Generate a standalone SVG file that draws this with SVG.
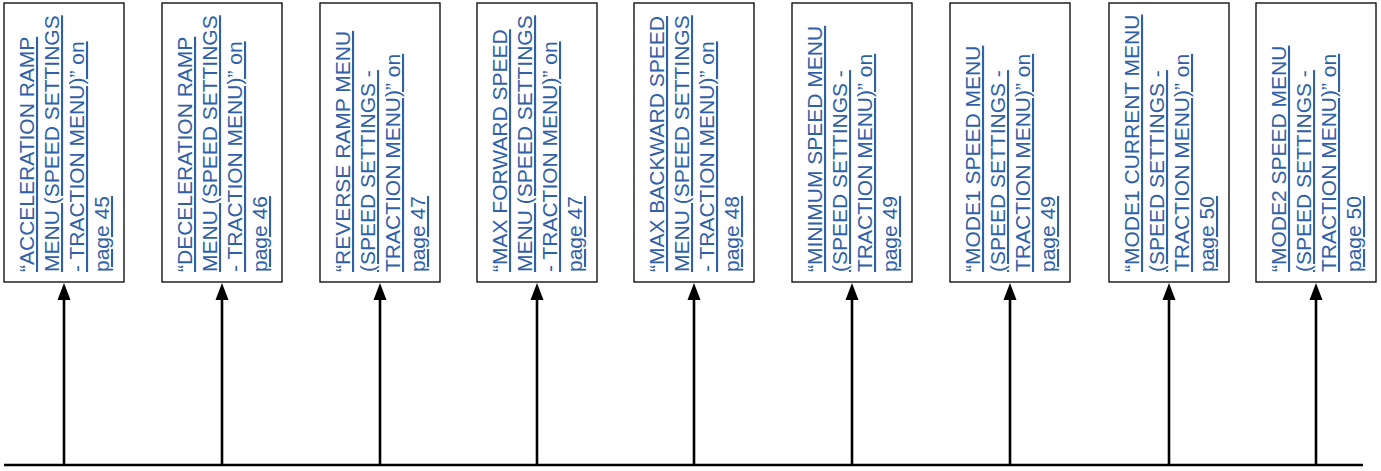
<svg xmlns="http://www.w3.org/2000/svg" width="1381" height="471" viewBox="0 0 1381 471">
<style>
.box{fill:#fff;stroke:#000;stroke-width:1.3}
.lbl{font-family:"Liberation Sans",Arial,sans-serif;font-size:21px;fill:#2f60a8;text-decoration:underline}
.conn{stroke:#000;stroke-width:2.6;fill:none}
</style>
<defs>
<marker id="ah" markerWidth="13" markerHeight="17" refX="6.5" refY="0" orient="auto-start-reverse" markerUnits="userSpaceOnUse" viewBox="0 0 13 17">
<path d="M6.5,0 L13,17 L0,17 Z" fill="#000"/>
</marker>
</defs>
<rect width="1381" height="471" fill="#fff"/>
<g id="connectors">
<line class="conn" x1="4" y1="465" x2="1363" y2="465"/>
<line class="conn" x1="64" y1="465" x2="64" y2="300"/><path d="M64,283 L70.5,300 L57.5,300 Z"/>
<line class="conn" x1="222" y1="465" x2="222" y2="300"/><path d="M222,283 L228.5,300 L215.5,300 Z"/>
<line class="conn" x1="380" y1="465" x2="380" y2="300"/><path d="M380,283 L386.5,300 L373.5,300 Z"/>
<line class="conn" x1="537" y1="465" x2="537" y2="300"/><path d="M537,283 L543.5,300 L530.5,300 Z"/>
<line class="conn" x1="694" y1="465" x2="694" y2="300"/><path d="M694,283 L700.5,300 L687.5,300 Z"/>
<line class="conn" x1="852" y1="465" x2="852" y2="300"/><path d="M852,283 L858.5,300 L845.5,300 Z"/>
<line class="conn" x1="1010" y1="465" x2="1010" y2="300"/><path d="M1010,283 L1016.5,300 L1003.5,300 Z"/>
<line class="conn" x1="1169" y1="465" x2="1169" y2="300"/><path d="M1169,283 L1175.5,300 L1162.5,300 Z"/>
<line class="conn" x1="1316" y1="465" x2="1316" y2="300"/><path d="M1316,283 L1322.5,300 L1309.5,300 Z"/>
</g>
<g id="node1">
<rect class="box" x="4" y="3" width="120" height="279"/>
<text class="lbl" transform="translate(34,272) rotate(-90)"><tspan x="0" y="0">“ACCELERATION RAMP</tspan><tspan x="0" y="25">MENU (SPEED SETTINGS</tspan><tspan x="0" y="50">- TRACTION MENU)” on</tspan><tspan x="0" y="75">page 45</tspan></text>
</g>
<g id="node2">
<rect class="box" x="162" y="3" width="120" height="279"/>
<text class="lbl" transform="translate(192,272) rotate(-90)"><tspan x="0" y="0">“DECELERATION RAMP</tspan><tspan x="0" y="25">MENU (SPEED SETTINGS</tspan><tspan x="0" y="50">- TRACTION MENU)” on</tspan><tspan x="0" y="75">page 46</tspan></text>
</g>
<g id="node3">
<rect class="box" x="320" y="3" width="120" height="279"/>
<text class="lbl" transform="translate(350,272) rotate(-90)"><tspan x="0" y="0">“REVERSE RAMP MENU</tspan><tspan x="0" y="25">(SPEED SETTINGS -</tspan><tspan x="0" y="50">TRACTION MENU)” on</tspan><tspan x="0" y="75">page 47</tspan></text>
</g>
<g id="node4">
<rect class="box" x="477" y="3" width="120" height="279"/>
<text class="lbl" transform="translate(507,272) rotate(-90)"><tspan x="0" y="0">“MAX FORWARD SPEED</tspan><tspan x="0" y="25">MENU (SPEED SETTINGS</tspan><tspan x="0" y="50">- TRACTION MENU)” on</tspan><tspan x="0" y="75">page 47</tspan></text>
</g>
<g id="node5">
<rect class="box" x="634" y="3" width="120" height="279"/>
<text class="lbl" transform="translate(664,272) rotate(-90)"><tspan x="0" y="0">“MAX BACKWARD SPEED</tspan><tspan x="0" y="25">MENU (SPEED SETTINGS</tspan><tspan x="0" y="50">- TRACTION MENU)” on</tspan><tspan x="0" y="75">page 48</tspan></text>
</g>
<g id="node6">
<rect class="box" x="792" y="3" width="120" height="279"/>
<text class="lbl" transform="translate(822,272) rotate(-90)"><tspan x="0" y="0">“MINIMUM SPEED MENU</tspan><tspan x="0" y="25">(SPEED SETTINGS -</tspan><tspan x="0" y="50">TRACTION MENU)” on</tspan><tspan x="0" y="75">page 49</tspan></text>
</g>
<g id="node7">
<rect class="box" x="950" y="3" width="120" height="279"/>
<text class="lbl" transform="translate(980,272) rotate(-90)"><tspan x="0" y="0">“MODE1 SPEED MENU</tspan><tspan x="0" y="25">(SPEED SETTINGS -</tspan><tspan x="0" y="50">TRACTION MENU)” on</tspan><tspan x="0" y="75">page 49</tspan></text>
</g>
<g id="node8">
<rect class="box" x="1109" y="3" width="120" height="279"/>
<text class="lbl" transform="translate(1139,272) rotate(-90)"><tspan x="0" y="0">“MODE1 CURRENT MENU</tspan><tspan x="0" y="25">(SPEED SETTINGS -</tspan><tspan x="0" y="50">TRACTION MENU)” on</tspan><tspan x="0" y="75">page 50</tspan></text>
</g>
<g id="node9">
<rect class="box" x="1256" y="3" width="120" height="279"/>
<text class="lbl" transform="translate(1286,272) rotate(-90)"><tspan x="0" y="0">“MODE2 SPEED MENU</tspan><tspan x="0" y="25">(SPEED SETTINGS -</tspan><tspan x="0" y="50">TRACTION MENU)” on</tspan><tspan x="0" y="75">page 50</tspan></text>
</g>
</svg>
